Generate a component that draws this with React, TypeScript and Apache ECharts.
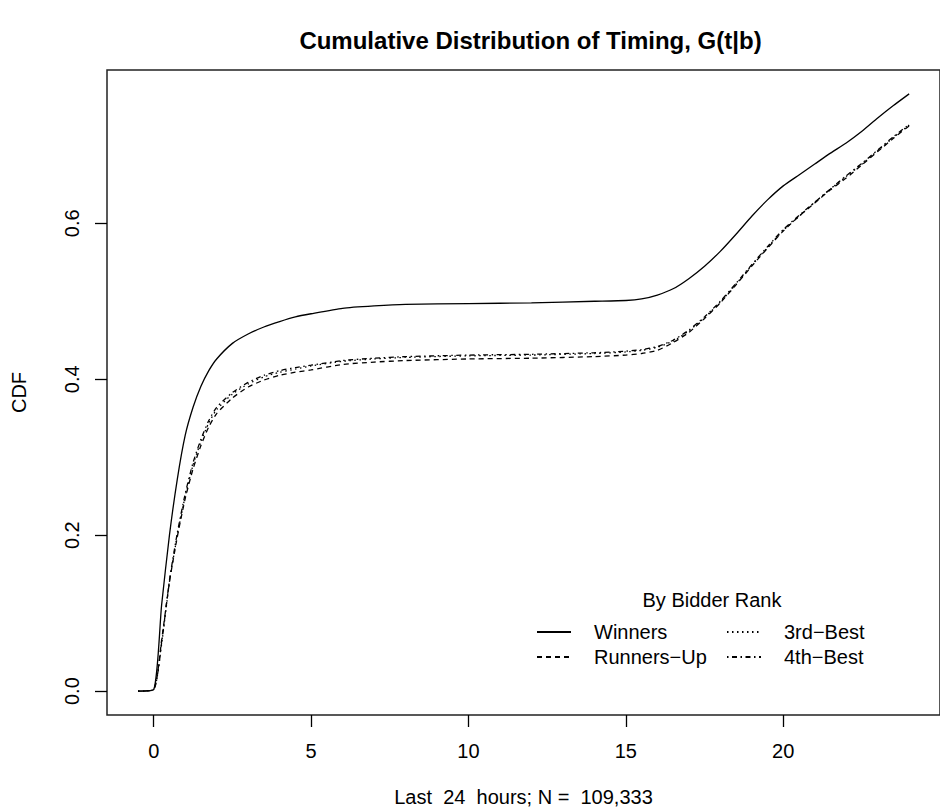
import React, { useEffect, useRef } from "react";
import * as echarts from "echarts";

const hours = [-0.5, 0, 0.25, 0.5, 0.75, 1, 1.25, 1.5, 1.75, 2, 2.5, 3, 3.5, 4, 4.5, 5, 6, 7, 8, 10, 12, 14, 15, 15.5, 16, 16.5, 17, 17.5, 18, 18.5, 19, 19.5, 20, 20.5, 21, 21.5, 22, 22.5, 23, 23.5, 24];

const winners = [0, 0.002, 0.11, 0.2, 0.272, 0.328, 0.364, 0.391, 0.411, 0.426, 0.446, 0.458, 0.467, 0.474, 0.48, 0.484, 0.491, 0.494, 0.496, 0.497, 0.498, 0.5, 0.501, 0.503, 0.508, 0.516, 0.529, 0.545, 0.564, 0.586, 0.609, 0.63, 0.648, 0.662, 0.676, 0.69, 0.703, 0.718, 0.735, 0.751, 0.766];

const runnersUp = [0, 0.002, 0.065, 0.14, 0.198, 0.247, 0.285, 0.315, 0.339, 0.356, 0.376, 0.39, 0.399, 0.405, 0.409, 0.412, 0.419, 0.422, 0.424, 0.426, 0.427, 0.429, 0.431, 0.433, 0.437, 0.447, 0.46, 0.478, 0.498, 0.521, 0.545, 0.568, 0.59, 0.609, 0.626, 0.643, 0.658, 0.675, 0.692, 0.709, 0.725];

const thirdBest = [0, 0.002, 0.06, 0.14, 0.2, 0.25, 0.29, 0.32, 0.344, 0.361, 0.381, 0.394, 0.403, 0.409, 0.413, 0.417, 0.423, 0.426, 0.428, 0.43, 0.431, 0.433, 0.435, 0.437, 0.441, 0.449, 0.462, 0.479, 0.499, 0.522, 0.546, 0.569, 0.591, 0.609, 0.627, 0.644, 0.66, 0.676, 0.693, 0.71, 0.726];

const fourthBest = [0, 0.002, 0.062, 0.142, 0.203, 0.253, 0.293, 0.323, 0.347, 0.364, 0.383, 0.396, 0.405, 0.411, 0.415, 0.418, 0.424, 0.427, 0.429, 0.431, 0.432, 0.434, 0.436, 0.438, 0.442, 0.45, 0.463, 0.48, 0.5, 0.523, 0.547, 0.57, 0.592, 0.61, 0.627, 0.644, 0.661, 0.677, 0.694, 0.711, 0.727];

const seriesNames = ["Winners", "Runners\u2212Up", "3rd\u2212Best", "4th\u2212Best"];
const xTicks = [0, 5, 10, 15, 20];
const yTicks = [0, 0.2, 0.4, 0.6];

const FONT = '"Liberation Sans", Arial, Helvetica, sans-serif';

export default function App() {
  const ref = useRef<HTMLDivElement>(null);

  useEffect(() => {
    if (!ref.current) return;
    const chart = echarts.init(ref.current, null, { renderer: "svg" });
    const values = [winners, runnersUp, thirdBest, fourthBest];
    const dashes: any[] = ["solid", [5, 4], [1.5, 3.5], [1.5, 3.5, 5, 3.5]];

    const series = values.map((vals, k) => ({
      name: seriesNames[k],
      type: "line",
      data: hours.map((t, i) => [t, vals[i]]),
      symbol: "none",
      showSymbol: false,
      smooth: 0.2,
      lineStyle: { color: "#000", width: 1.3, type: dashes[k] },
      itemStyle: { color: "#000" },
      emphasis: { disabled: true },
      z: 4 - k,
    }));

    const legendText = {
      fontSize: 20,
      color: "#000",
      fontFamily: FONT,
      lineHeight: 20,
      padding: [0, 0, 0, 18],
    };

    const legendBase = {
      orient: "vertical",
      top: 622,
      padding: 0,
      itemWidth: 34,
      itemHeight: 12,
      itemGap: 5,
      selectedMode: false,
      textStyle: legendText,
      itemStyle: { color: "rgba(0,0,0,0)", borderWidth: 0, opacity: 0 },
    };

    chart.setOption({
      animation: false,
      backgroundColor: "#fff",
      textStyle: { fontFamily: FONT },
      grid: {
        left: 107,
        top: 70,
        width: 847,
        height: 645,
        show: true,
        borderColor: "#222",
        borderWidth: 1.5,
        backgroundColor: "transparent",
      },
      xAxis: {
        type: "value",
        min: -1.484,
        max: 24.98,
        splitLine: { show: false },
        axisLine: { show: false, onZero: false },
        axisTick: {
          show: true,
          length: 12,
          customValues: xTicks,
          lineStyle: { color: "#000", width: 1.3 },
        },
        axisLabel: {
          customValues: xTicks,
          fontSize: 20,
          color: "#000",
          fontFamily: FONT,
          margin: 26,
          formatter: (v: number) => String(v),
        },
        name: "Last  24  hours; N =  109,333",
        nameLocation: "middle",
        nameGap: 72,
        nameTextStyle: { fontSize: 20, color: "#000", fontFamily: FONT },
      },
      yAxis: {
        type: "value",
        min: -0.0306,
        max: 0.7966,
        splitLine: { show: false },
        axisLine: { show: false, onZero: false },
        axisTick: {
          show: true,
          length: 12,
          customValues: yTicks,
          lineStyle: { color: "#000", width: 1.3 },
        },
        axisLabel: {
          customValues: yTicks,
          rotate: 90,
          fontSize: 20,
          color: "#000",
          fontFamily: FONT,
          margin: 25,
          formatter: (v: number) => v.toFixed(1),
        },
        name: "CDF",
        nameLocation: "middle",
        nameGap: 78,
        nameRotate: 90,
        nameTextStyle: { fontSize: 20, color: "#000", fontFamily: FONT },
      },
      legend: [
        { ...legendBase, data: seriesNames.slice(0, 2), left: 536 },
        { ...legendBase, data: seriesNames.slice(2, 4), left: 726 },
      ],
      graphic: [
        {
          type: "text",
          x: 530.5,
          y: 40,
          style: {
            text: "Cumulative Distribution of Timing, G(t|b)",
            fontSize: 24,
            fontWeight: "bold",
            fontFamily: FONT,
            fill: "#000",
            textAlign: "center",
            textVerticalAlign: "middle",
          },
        },
        {
          type: "text",
          x: 712,
          y: 600,
          style: {
            text: "By Bidder Rank",
            fontSize: 20,
            fontFamily: FONT,
            fill: "#000",
            textAlign: "center",
            textVerticalAlign: "middle",
          },
        },
      ],
      series,
    });

    return () => {
      chart.dispose();
    };
  }, []);

  return (
    <div
      ref={ref}
      style={{
        position: "absolute",
        left: 0,
        top: 0,
        width: 940,
        height: 812,
        overflow: "hidden",
        background: "#fff",
      }}
    />
  );
}
